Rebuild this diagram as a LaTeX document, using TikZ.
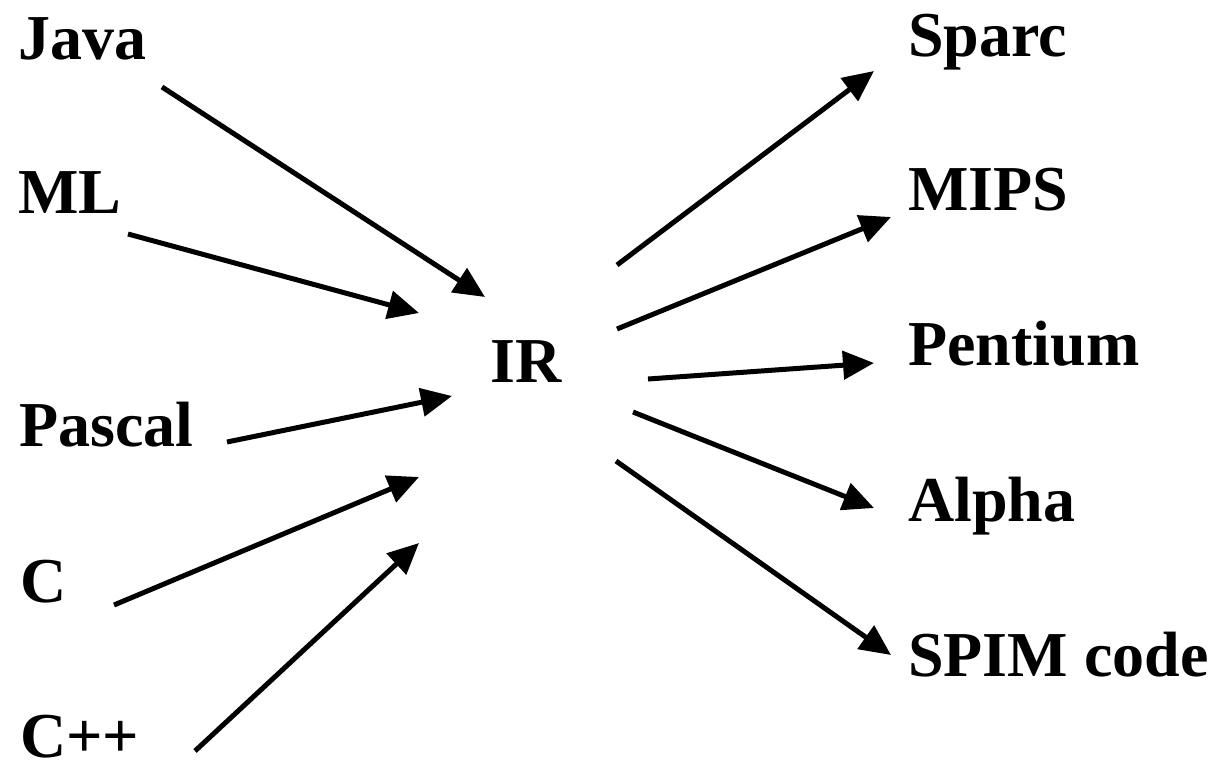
\documentclass[tikz,border=0pt]{standalone}
\usepackage{fontspec}
\setmainfont{Liberation Serif}
\usetikzlibrary{arrows.meta}
\begin{document}
\begin{tikzpicture}[x=1pt,y=-1pt,
  lang/.style={anchor=base west,inner sep=0pt,font=\fontsize{64}{64}\selectfont\bfseries},
  flow/.style={line width=5pt,-{Triangle[length=31pt,width=28pt]}}]
\useasboundingbox (0,0) rectangle (1216,761);
% source languages
\node[lang] (java)   at (18,59)  {Java};
\node[lang] (ml)     at (18,213) {ML};
\node[lang] (pascal) at (19,446) {Pascal};
\node[lang] (c)      at (20,602) {C};
\node[lang] (cpp)    at (20,757) {C++};
% intermediate representation
\node[lang] (ir)     at (490,382) {IR};
% target machines
\node[lang] (sparc)   at (908,56)  {Sparc};
\node[lang] (mips)    at (908,210) {MIPS};
\node[lang] (pentium) at (908,365) {Pentium};
\node[lang] (alpha)   at (908,521) {Alpha};
\node[lang] (spim)    at (908,676) {SPIM code};
% arrow end points
\coordinate (java-out)   at (162,87);
\coordinate (ml-out)     at (128,234);
\coordinate (pascal-out) at (227,442);
\coordinate (c-out)      at (114,605);
\coordinate (cpp-out)    at (195,751);
\coordinate (ir-in1) at (485,297);
\coordinate (ir-in2) at (419,313);
\coordinate (ir-in3) at (452,396);
\coordinate (ir-in4) at (419,477);
\coordinate (ir-in5) at (419,543);
\coordinate (ir-out1) at (617,265);
\coordinate (ir-out2) at (617,329);
\coordinate (ir-out3) at (648,379);
\coordinate (ir-out4) at (633,412);
\coordinate (ir-out5) at (616,461);
\coordinate (sparc-in)   at (874,71);
\coordinate (mips-in)    at (891,217);
\coordinate (pentium-in) at (874,363);
\coordinate (alpha-in)   at (874,508);
\coordinate (spim-in)    at (891,655);
% front ends
\draw[flow] (java-out)   -- (ir-in1);
\draw[flow] (ml-out)     -- (ir-in2);
\draw[flow] (pascal-out) -- (ir-in3);
\draw[flow] (c-out)      -- (ir-in4);
\draw[flow] (cpp-out)    -- (ir-in5);
% back ends
\draw[flow] (ir-out1) -- (sparc-in);
\draw[flow] (ir-out2) -- (mips-in);
\draw[flow] (ir-out3) -- (pentium-in);
\draw[flow] (ir-out4) -- (alpha-in);
\draw[flow] (ir-out5) -- (spim-in);
\end{tikzpicture}
\end{document}
